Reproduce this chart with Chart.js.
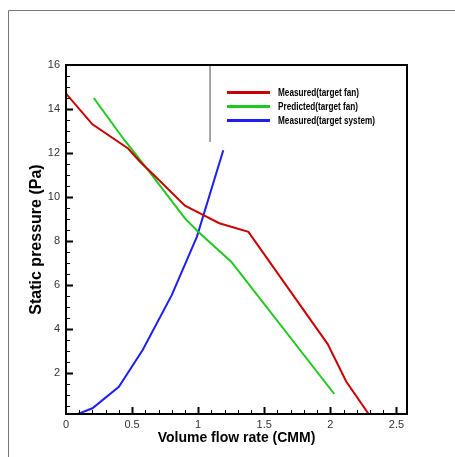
<!DOCTYPE html>
<html>
<head>
<meta charset="utf-8">
<script src="https://cdn.jsdelivr.net/npm/chart.js@4"></script>
<style>
  body { margin: 0; background: #fff; }
  #wrap { position: relative; width: 455px; height: 457px; }
  #legend { position: absolute; left: 227px; top: 85px; margin: 0; padding: 0; list-style: none;
    font-family: "Liberation Sans", Arial, sans-serif; font-weight: bold; font-size: 10.5px; color: #000; }
  #legend li { display: flex; align-items: center; height: 14px; }
  #legend .swatch { display: inline-block; width: 43px; height: 3px; margin-right: 8px; }
  #legend .txt { display: inline-block; transform: scaleX(0.78); transform-origin: left center; white-space: nowrap; }
</style>
</head>
<body>
<div id="wrap">
  <canvas id="fan_chart" width="455" height="457"></canvas>
  <ul id="legend"></ul>
</div>
<script>
// flow rate (CMM) / static pressure (Pa)
const measuredFanX = [0, 0.2, 0.47, 0.56, 0.68, 0.9, 1.04, 1.16, 1.38, 1.98, 2.12, 2.29];
const measuredFanY = [14.7, 13.3, 12.2, 11.6, 10.9, 9.6, 9.17, 8.8, 8.41, 3.3, 1.6, 0.12];
const predictedFanX = [0.21, 0.44, 0.63, 0.9, 1.0, 1.25, 2.03];
const predictedFanY = [14.5, 12.6, 11.15, 9.02, 8.41, 7.05, 1.03];
const measuredSysX = [0.08, 0.2, 0.4, 0.58, 0.8, 0.99, 1.19];
const measuredSysY = [0.1, 0.38, 1.36, 3.03, 5.53, 8.18, 12.12];
const markerX = [1.09, 1.09];
const markerY = [16, 12.5];

const seriesNames = ['Measured(target fan)', 'Predicted(target fan)', 'Measured(target system)'];
const seriesColors = ['rgb(200, 0, 0)', 'rgb(30, 200, 30)', 'rgb(30, 30, 240)'];
const xTicks = [0, 0.5, 1, 1.5, 2, 2.5];
const yTicks = [2, 4, 6, 8, 10, 12, 14, 16];

const toPoints = (xs, ys) => xs.map((x, i) => ({ x: x, y: ys[i] }));

// inward ticks, plot frame and the outer picture border
const framePlugin = {
  id: 'frame',
  beforeDraw(chart) {
    const ctx = chart.ctx;
    ctx.save();
    ctx.strokeStyle = '#777';
    ctx.lineWidth = 1;
    ctx.beginPath();
    ctx.moveTo(8.5, 457);
    ctx.lineTo(8.5, 10.5);
    ctx.lineTo(455, 10.5);
    ctx.stroke();
    ctx.restore();
  },
  afterDatasetsDraw(chart) {
    const ctx = chart.ctx;
    const a = chart.chartArea;
    const xs = chart.scales.x, ys = chart.scales.y;
    ctx.save();
    ctx.strokeStyle = '#000';
    for (let i = 1; i <= 25; i++) {
      const v = i / 10;
      const major = i % 5 === 0;
      const px = Math.round(xs.getPixelForValue(v)) + 0.5;
      ctx.lineWidth = major ? 2 : 1;
      ctx.beginPath();
      ctx.moveTo(px, a.bottom);
      ctx.lineTo(px, a.bottom - (major ? 7 : 4));
      ctx.stroke();
    }
    for (let i = 1; i <= 31; i++) {
      const v = i / 2;
      const major = i % 4 === 0;
      const py = Math.round(ys.getPixelForValue(v)) + 0.5;
      ctx.lineWidth = major ? 2 : 1;
      ctx.beginPath();
      ctx.moveTo(a.left, py);
      ctx.lineTo(a.left + (major ? 7 : 4), py);
      ctx.stroke();
    }
    ctx.lineWidth = 2;
    ctx.strokeRect(a.left, a.top, a.right - a.left, a.bottom - a.top);
    ctx.restore();
  }
};

const ctx = document.getElementById('fan_chart').getContext('2d');
const fanChart = new Chart(ctx, {
  type: 'line',
  data: {
    datasets: [
      { label: seriesNames[0], data: toPoints(measuredFanX, measuredFanY), borderColor: seriesColors[0], borderWidth: 2 },
      { label: seriesNames[1], data: toPoints(predictedFanX, predictedFanY), borderColor: seriesColors[1], borderWidth: 2 },
      { label: seriesNames[2], data: toPoints(measuredSysX, measuredSysY), borderColor: seriesColors[2], borderWidth: 2 },
      { label: 'marker', data: toPoints(markerX, markerY), borderColor: '#888', borderWidth: 1.5 }
    ]
  },
  options: {
    responsive: false,
    devicePixelRatio: 1,
    animation: false,
    parsing: false,
    elements: { point: { radius: 0 }, line: { tension: 0 } },
    layout: { padding: { left: 27, top: 65, right: 48, bottom: 10 } },
    plugins: { legend: { display: false }, tooltip: { enabled: false } },
    scales: {
      x: {
        type: 'linear',
        min: 0,
        max: 2.58,
        afterFit: s => { s.height = 33; },
        afterBuildTicks: s => { s.ticks = xTicks.map(v => ({ value: v })); },
        grid: { display: false, drawTicks: false },
        border: { display: false },
        ticks: {
          padding: 4,
          color: '#333',
          font: { family: 'Liberation Sans', size: 11 },
          callback: v => String(v)
        },
        title: {
          display: true,
          text: 'Volume flow rate (CMM)',
          color: '#000',
          padding: 0,
          font: { family: 'Liberation Sans', size: 14, weight: 'bold' }
        }
      },
      y: {
        type: 'linear',
        min: 0.12,
        max: 16,
        afterFit: s => { s.width = 39; },
        afterBuildTicks: s => { s.ticks = yTicks.map(v => ({ value: v })); },
        grid: { display: false, drawTicks: false },
        border: { display: false },
        ticks: {
          padding: 6,
          color: '#333',
          font: { family: 'Liberation Sans', size: 11 },
          callback: v => String(v)
        },
        title: {
          display: true,
          text: 'Static pressure (Pa)',
          color: '#000',
          padding: 0,
          font: { family: 'Liberation Sans', size: 16, weight: 'bold' }
        }
      }
    }
  },
  plugins: [framePlugin]
});

const legendContainer = document.getElementById('legend');
legendContainer.innerHTML = seriesNames.map((name, i) => `
  <li>
    <span class="swatch" style="background:${seriesColors[i]};"></span>
    <span class="txt">${name}</span>
  </li>`).join('');
</script>
</body>
</html>
